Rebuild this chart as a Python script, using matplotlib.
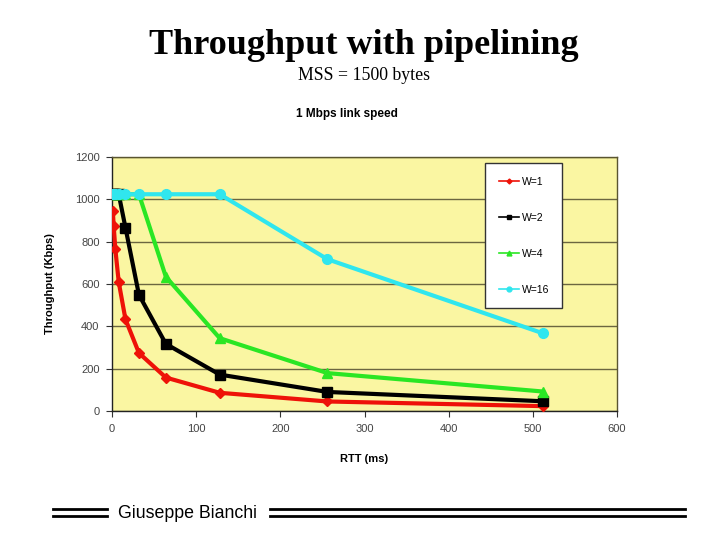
import matplotlib
matplotlib.use("Agg")
import matplotlib.pyplot as plt
from matplotlib.lines import Line2D

# RTT values (ms) and throughput (Kbps)
rtt = [1, 2, 4, 8, 16, 32, 64, 128, 256, 512]
w1 = [943, 875, 763, 609, 433, 274, 158, 86, 45, 23]
w2 = [1024, 1024, 1024, 1024, 866, 549, 317, 172, 90, 46]
w4 = [1024, 1024, 1024, 1024, 1024, 1024, 634, 344, 179, 92]
w16 = [1024, 1024, 1024, 1024, 1024, 1024, 1024, 1024, 717, 367]

series = [
    ("W=1", w1, "#EE1208", "D", 5),
    ("W=2", w2, "#000000", "s", 7),
    ("W=4", w4, "#2AE624", "^", 7),
    ("W=16", w16, "#30E6EE", "o", 7),
]

fig = plt.figure(figsize=(7.2, 5.4), dpi=100)
ax = fig.add_axes([112 / 720, 1 - 411 / 540, 505 / 720, 254 / 540])
ax.set_facecolor("#FAF6A2")

for label, vals, color, marker, ms in series:
    ax.plot(rtt, vals, color=color, lw=3, marker=marker, ms=ms,
            markeredgecolor=color, label=label, zorder=3)

ax.set_xlim(0, 600)
ax.set_ylim(0, 1200)
ax.set_xticks(range(0, 601, 100))
ax.set_yticks(range(0, 1201, 200))
ax.yaxis.grid(True, color="#6B6640", lw=1)
ax.set_axisbelow(True)
for s in ax.spines.values():
    s.set_color("#5A5530")
    s.set_linewidth(1)
ax.spines["left"].set_color("#222222")
ax.spines["bottom"].set_color("#222222")
ax.tick_params(axis="both", direction="out", length=4, labelsize=8,
               labelcolor="#444444", color="#333333", pad=5)
for t in ax.get_xticklabels() + ax.get_yticklabels():
    t.set_family("Liberation Sans")

ax.set_xlabel("RTT (ms)", fontsize=8, fontweight="bold",
              family="Liberation Sans", labelpad=15)
ax.set_ylabel("Throughput (Kbps)", fontsize=8, fontweight="bold",
              family="Liberation Sans", labelpad=14)

leg = ax.legend(loc="upper left", bbox_to_anchor=((485 - 112) / 505, (411 - 163) / 254),
                prop={"family": "Liberation Sans", "size": 7.5},
                frameon=True, fancybox=False, edgecolor="#333333",
                framealpha=1, labelspacing=2.5, handlelength=2.0,
                handletextpad=0.2, borderpad=1.3, borderaxespad=0,
                markerscale=0.5)
for h in leg.get_lines():
    h.set_linewidth(1.2)

fig.text(0.505, 1 - 45 / 540, "Throughput with pipelining", ha="center", va="center",
         family="Liberation Serif", fontweight="bold", fontsize=26)
fig.text(0.505, 1 - 76 / 540, "MSS = 1500 bytes", ha="center", va="center",
         family="Liberation Serif", fontsize=12.8)
fig.text(347 / 720, 1 - 114 / 540, "1 Mbps link speed", ha="center", va="center",
         family="Liberation Sans", fontweight="bold", fontsize=8.5)

# footer
fig.text(187 / 720, 1 - 513 / 540, "Giuseppe Bianchi", ha="center", va="center",
         family="Liberation Sans", fontsize=12.8)
for yy in (509, 516):
    fig.add_artist(Line2D([53 / 720, 107 / 720], [1 - yy / 540] * 2, color="black", lw=2))
    fig.add_artist(Line2D([270 / 720, 685 / 720], [1 - yy / 540] * 2, color="black", lw=2))

fig.savefig("out.png", dpi=100)
